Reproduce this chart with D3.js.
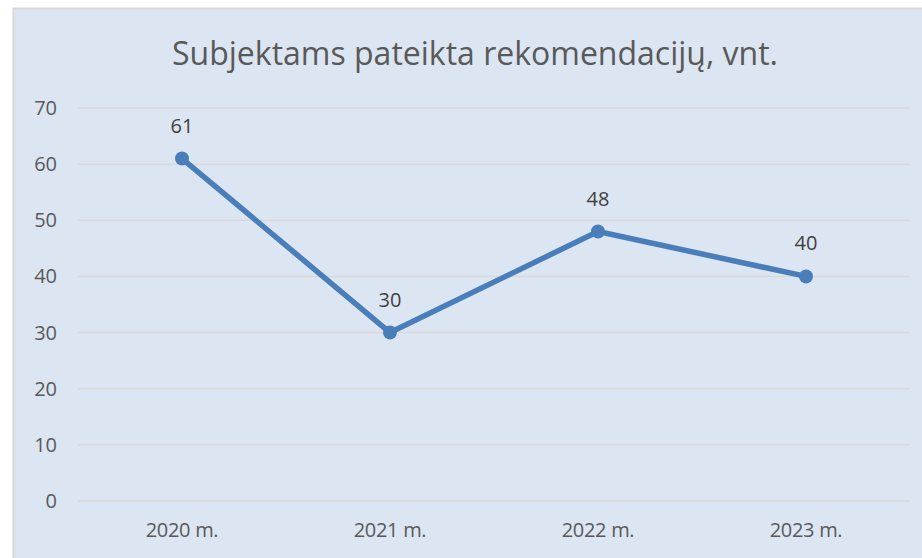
<!DOCTYPE html>
<html>
<head>
<meta charset="utf-8">
<script src="https://cdn.jsdelivr.net/npm/d3@7"></script>
<style>
  body { margin: 0; background: #fff; }
  svg { display: block; font-family: "Open Sans", "Noto Sans", sans-serif; }
</style>
</head>
<body>
<svg id="chart" width="922" height="558"></svg>
<script>
const categories = ["2020 m.", "2021 m.", "2022 m.", "2023 m."];
const values = [61, 30, 48, 40];
const yTicks = [0, 10, 20, 30, 40, 50, 60, 70];
const title = "Subjektams pateikta rekomendacijų, vnt.";

const svg = d3.select("#chart");

// chart box
svg.append("rect")
  .attr("x", 13.5).attr("y", 8.5)
  .attr("width", 920).attr("height", 560)
  .attr("fill", "#dce6f2")
  .attr("stroke", "#d9d9d9")
  .attr("stroke-width", 2);

const x = d3.scalePoint()
  .domain(categories)
  .range([182, 806]);

const y = d3.scaleLinear()
  .domain([0, 70])
  .range([501, 108]);

// gridlines
svg.append("g")
  .selectAll("line")
  .data(yTicks)
  .enter()
  .append("line")
  .attr("x1", 78).attr("x2", 910)
  .attr("y1", d => y(d)).attr("y2", d => y(d))
  .attr("stroke", "#d9d9d9")
  .attr("stroke-width", 1.5);

// y axis labels
svg.append("g")
  .selectAll("text")
  .data(yTicks)
  .enter()
  .append("text")
  .attr("x", 57)
  .attr("y", d => y(d))
  .attr("dy", "0.35em")
  .attr("text-anchor", "end")
  .attr("font-size", 20)
  .attr("fill", "#595959")
  .text(d => d);

// x axis labels
svg.append("g")
  .selectAll("text")
  .data(categories)
  .enter()
  .append("text")
  .attr("x", d => x(d))
  .attr("y", 530)
  .attr("dy", "0.35em")
  .attr("text-anchor", "middle")
  .attr("font-size", 20)
  .attr("fill", "#595959")
  .style("letter-spacing", "-0.3px")
  .text(d => d);

// title
svg.append("text")
  .attr("x", 475)
  .attr("y", 65)
  .attr("text-anchor", "middle")
  .attr("font-size", 32)
  .attr("fill", "#595959")
  .text(title);

const line = d3.line()
  .x((d, i) => x(categories[i]))
  .y(d => y(d));

svg.append("path")
  .datum(values)
  .attr("d", line)
  .attr("fill", "none")
  .attr("stroke", "#4a7ebb")
  .attr("stroke-width", 5.5)
  .attr("stroke-linejoin", "round");

svg.append("g")
  .selectAll("circle")
  .data(values)
  .enter()
  .append("circle")
  .attr("cx", (d, i) => x(categories[i]))
  .attr("cy", d => y(d))
  .attr("r", 7)
  .attr("fill", "#4a7ebb");

// data labels
svg.append("g")
  .selectAll("text")
  .data(values)
  .enter()
  .append("text")
  .attr("x", (d, i) => x(categories[i]))
  .attr("y", d => y(d) - 33)
  .attr("dy", "0.35em")
  .attr("text-anchor", "middle")
  .attr("font-size", 20)
  .attr("fill", "#404040")
  .text(d => d);
</script>
</body>
</html>
